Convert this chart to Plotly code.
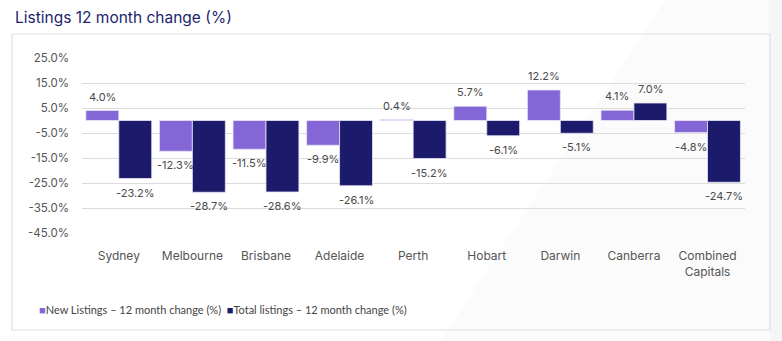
import plotly.graph_objects as go

categories = ["Sydney", "Melbourne", "Brisbane", "Adelaide", "Perth", "Hobart", "Darwin", "Canberra", "Combined<br>Capitals"]
new_listings = [4.0, -12.3, -11.5, -9.9, 0.4, 5.7, 12.2, 4.1, -4.8]
total_listings = [-23.2, -28.7, -28.6, -26.1, -15.2, -6.1, -5.1, 7.0, -24.7]
series_names = ["New Listings – 12 month change (%)", "Total listings – 12 month change (%)"]
tick_vals = [25, 15, 5, -5, -15, -25, -35, -45]
tick_text = [f"{v:.1f}%" for v in tick_vals]

W, H = 782, 341
L, R, T, B = 82, 37, 58, 108
pw, ph = W - L - R, H - T - B

def px_x(p):
    return (p - L) / pw

def px_y(p):
    return (H - B - p) / ph

NEW_C = "#8466d6"
TOT_C = "#1b1a6b"
COLORS = [NEW_C, TOT_C]
LABEL_FONT = dict(family="Inter, Poppins, sans-serif", size=11, color="#4a4a4a")

fig = go.Figure()
for name, vals, col in zip(series_names, (new_listings, total_listings), COLORS):
    fig.add_trace(go.Bar(x=categories, y=vals, name=name, showlegend=False,
                         marker=dict(color=col, line=dict(color="#e8e4f5", width=0.8))))

annotations = []
bar_px = pw / len(categories) * (1 - 0.105) / 2
for vals, shift in ((new_listings, -bar_px / 2), (total_listings, bar_px / 2)):
    for c, v in zip(categories, vals):
        annotations.append(dict(x=c, y=v, xref="x", yref="y", text=f"{v:.1f}%",
                                showarrow=False, xshift=shift,
                                yshift=14 if v >= 0 else -14,
                                yanchor="middle", font=LABEL_FONT))

annotations.append(dict(x=px_x(13), y=px_y(17), xref="paper", yref="paper",
                        text="Listings 12 month change (%)", showarrow=False,
                        xanchor="left", yanchor="middle",
                        font=dict(family="Inter, Poppins, sans-serif", size=15.5, color="#221f6e")))

legend_text = "  ".join(
    f"<span style='color:{col};font-size:11px'>■</span>{name}" for name, col in zip(series_names, COLORS)
)
annotations.append(dict(x=px_x(37), y=px_y(309), xref="paper", yref="paper",
                        text=legend_text, showarrow=False, xanchor="left", yanchor="middle",
                        font=dict(family="Lato, 'Source Sans Pro', sans-serif", size=11, color="#444")))

shapes = [
    dict(type="path", xref="paper", yref="paper", layer="below",
         path=f"M {px_x(440)} {px_y(341)} L {px_x(665)} {px_y(0)} L {px_x(782)} {px_y(0)} L {px_x(782)} {px_y(341)} Z",
         fillcolor="rgba(0,0,0,0.016)", line=dict(width=0)),
    dict(type="rect", xref="paper", yref="paper", layer="below",
         x0=px_x(770), x1=px_x(782), y0=px_y(341), y1=px_y(0),
         fillcolor="rgba(0,0,0,0.02)", line=dict(width=0)),
    dict(type="rect", xref="paper", yref="paper", layer="below",
         x0=px_x(12), x1=px_x(770), y0=px_y(330), y1=px_y(34),
         fillcolor="rgba(0,0,0,0)", line=dict(color="#dfe0e4", width=1.2)),
]

fig.update_layout(
    width=W, height=H,
    margin=dict(l=L, r=R, t=T, b=B),
    paper_bgcolor="white", plot_bgcolor="rgba(0,0,0,0)",
    barmode="group", bargap=0.105, bargroupgap=0,
    showlegend=False,
    annotations=annotations, shapes=shapes,
    xaxis=dict(showline=False, showgrid=False, zeroline=False, ticks="",
               tickfont=dict(family="Inter, Poppins, sans-serif", size=12, color="#555"),
               ticklabelstandoff=14),
    yaxis=dict(range=[-45, 25], tickvals=tick_vals, ticktext=tick_text,
               showgrid=True, gridcolor="#dcdcdc", gridwidth=1, zeroline=False, showline=False,
               tickfont=dict(family="Inter, Poppins, sans-serif", size=11.5, color="#555"),
               ticklabelstandoff=12),
)

fig.write_html("out.html")
